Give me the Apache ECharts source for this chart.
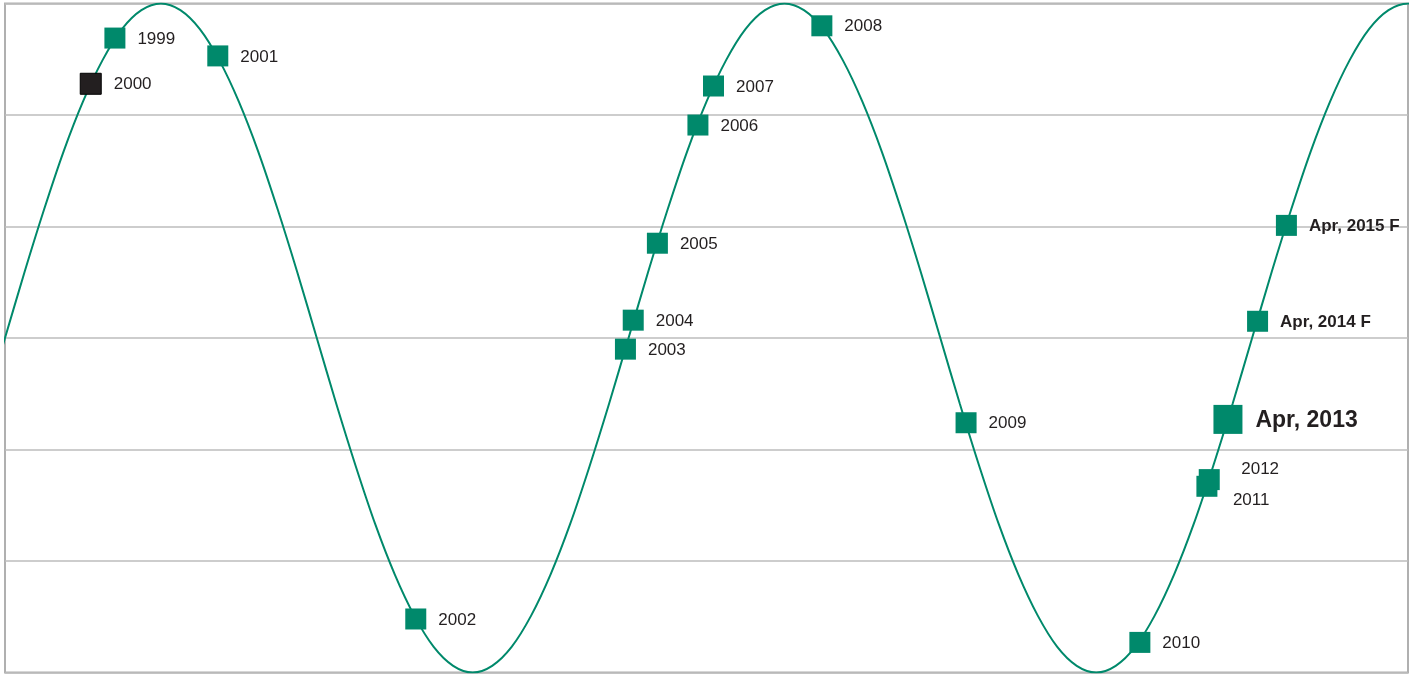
<!DOCTYPE html>
<html>
<head>
<meta charset="utf-8">
<script src="https://cdn.jsdelivr.net/npm/echarts@6/dist/echarts.min.js"></script>
<style>
html,body{margin:0;padding:0;background:#fff;}
#chart{width:1416px;height:674px;}
</style>
</head>
<body>
<div id="chart"></div>
<script>
// Cycle curve (phase position, level); it runs just past both edges
const curveX = [-0.25,0,0.25,0.5,0.75,1,1.25,1.5,1.75,2,2.25,2.5,2.75,3,3.25,3.5,3.75,4,4.25,4.5,4.75,5,5.25,5.5,5.75,6,6.25,6.5,6.75,7,7.25,7.5,7.75,
  8,8.25,8.5,8.75,9,9.25,9.5,9.75,10,10.25,10.5,10.75,11,11.25,11.5,11.75,12,12.25,12.5,12.75,13,13.25,13.5,13.75,14,14.25,14.5,14.75,15,15.25,15.5,15.75,
  16,16.25,16.5,16.75,17,17.25,17.5,17.75,18,18.25];
const curveY = [2.41,3,3.59,4.15,4.67,5.12,5.49,5.77,5.94,6,5.94,5.77,5.49,5.12,4.67,4.15,3.59,3,2.41,1.85,1.33,0.88,0.51,0.23,0.06,0,0.06,0.23,0.51,0.88,1.33,1.85,2.41,
  3,3.59,4.15,4.67,5.12,5.49,5.77,5.94,6,5.94,5.77,5.49,5.12,4.67,4.15,3.59,3,2.41,1.85,1.33,0.88,0.51,0.23,0.06,0,0.06,0.23,0.51,0.88,1.33,1.85,2.41,
  3,3.59,4.15,4.67,5.12,5.49,5.77,5.94,6,5.94];

// Labelled points on the cycle
const pointNames = ['1999','2000','2001','2002','2003','2004','2005','2006','2007','2008','2009','2010','2011','2012','Apr, 2013','Apr, 2014 F','Apr, 2015 F'];
const pointX = [1.41,1.10,2.73,5.27,7.96,8.06,8.37,8.89,9.09,10.48,12.33,14.56,15.42,15.45,15.69,16.07,16.44];
const pointY = [5.69,5.28,5.53,0.48,2.90,3.16,3.85,4.91,5.26,5.80,2.24,0.27,1.67,1.73,2.27,3.15,4.01];

const GREEN = '#00896b';
const DARK = '#231f20';
const FONT = '"Liberation Sans", Arial, Helvetica, sans-serif';

const highlightName = '2000';
const currentName = 'Apr, 2013';
const labelShift = {'2011':[3.5,14], '2012':[9.5,-10]};

const pts = pointNames.map((n,i) => {
  const isCurrent = n === currentName;
  const isApr = n.indexOf('Apr') === 0;
  const isHi = n === highlightName;
  return {
    name: n,
    value: [pointX[i], pointY[i]],
    symbolSize: isCurrent ? 29 : 21,
    itemStyle: {color: isHi ? DARK : GREEN, opacity: 1,
                borderColor: isHi ? '#000' : GREEN, borderWidth: isHi ? 1 : 0},
    label: {
      show: true,
      position: 'right',
      distance: isCurrent ? 13 : 12,
      offset: labelShift[n] || [0, 1],
      formatter: '{b}',
      color: DARK,
      opacity: 1,
      fontFamily: FONT,
      fontSize: isCurrent ? 23 : 17,
      fontWeight: isApr ? 'bold' : 'normal'
    }
  };
});

const chart = echarts.init(document.getElementById('chart'), null, {renderer:'canvas'});
chart.setOption({
  animation: false,
  backgroundColor: '#fff',
  grid: {left: 5, right: 8, top: 3.5, bottom: 1.5, show: true, borderColor: '#b0b0b0', borderWidth: 2, backgroundColor: 'transparent'},
  xAxis: {type: 'value', min: 0, max: 18, show: true,
    axisLine: {show: false}, axisTick: {show: false}, axisLabel: {show: false}, splitLine: {show: false}},
  yAxis: {type: 'value', min: 0, max: 6, interval: 1,
    axisLine: {show: false}, axisTick: {show: false}, axisLabel: {show: false},
    splitLine: {show: true, lineStyle: {color: '#bdbdbd', width: 1.5}}},
  series: [
    {type: 'line', data: curveX.map((x,i) => [x, curveY[i]]), smooth: 0.3, showSymbol: false, clip: true,
     lineStyle: {color: GREEN, width: 2}, z: 2, silent: true},
    {type: 'scatter', symbol: 'rect', data: pts, z: 3, silent: true, itemStyle: {opacity: 1}}
  ]
});
</script>
</body>
</html>
